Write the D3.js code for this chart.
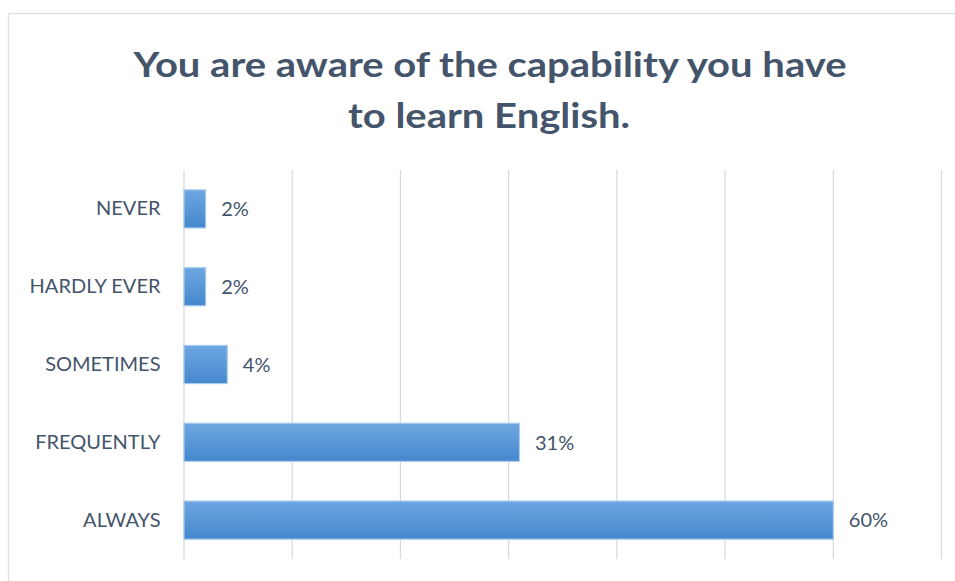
<!DOCTYPE html>
<html>
<head>
<meta charset="utf-8">
<script src="https://cdn.jsdelivr.net/npm/d3@7"></script>
<style>
  html, body { margin: 0; padding: 0; background: #fff; }
  svg { display: block; }
</style>
</head>
<body>
<div id="chart"></div>
<script>
// Survey answers, top to bottom
const categories = ["NEVER", "HARDLY EVER", "SOMETIMES", "FREQUENTLY", "ALWAYS"];
const shares = [0.02, 0.02, 0.04, 0.31, 0.60];
const gridTicks = [0, 0.1, 0.2, 0.3, 0.4, 0.5, 0.6, 0.7];
const titleLines = ["You are aware of the capability you have", "to learn English."];

const W = 955, H = 581;
const textColor = "#44546A";

const svg = d3.select("#chart").append("svg")
  .attr("width", W).attr("height", H);

// chart frame
svg.append("rect")
  .attr("x", 8.5).attr("y", 13.5)
  .attr("width", 960).attr("height", 640)
  .attr("fill", "#fff")
  .attr("stroke", "#dfe2e6").attr("stroke-width", 1.5);

// bar gradient
const defs = svg.append("defs");
const grad = defs.append("linearGradient")
  .attr("id", "barFill").attr("x1", 0).attr("y1", 0).attr("x2", 0).attr("y2", 1);
grad.append("stop").attr("offset", "0%").attr("stop-color", "#6ea7e1");
grad.append("stop").attr("offset", "100%").attr("stop-color", "#4587cd");

// title
const title = svg.append("text")
  .attr("text-anchor", "middle")
  .attr("font-family", "Lato, 'Open Sans', sans-serif")
  .attr("font-weight", 700)
  .attr("font-size", 35)
  .attr("fill", textColor);
title.append("tspan").attr("x", 490).attr("y", 77)
  .attr("textLength", 713).attr("lengthAdjust", "spacingAndGlyphs")
  .text(titleLines[0]);
title.append("tspan").attr("x", 489).attr("y", 128)
  .attr("textLength", 282).attr("lengthAdjust", "spacingAndGlyphs")
  .text(titleLines[1]);

// scales
const x = d3.scaleLinear().domain([0, 0.7]).range([183.5, 941]);
const y = d3.scaleBand().domain(categories).range([170, 559])
  .paddingInner(0.51).paddingOuter(0.255);

// vertical gridlines
svg.append("g")
  .attr("transform", "translate(0,559)")
  .call(d3.axisBottom(x).tickValues(gridTicks).tickSize(-389).tickFormat(""))
  .call(g => g.select(".domain").remove())
  .call(g => g.selectAll(".tick line").attr("stroke", "#d9d9d9").attr("stroke-width", 1.2));

// category labels
svg.append("g")
  .attr("transform", "translate(183.5,0)")
  .call(d3.axisLeft(y).tickSize(0).tickPadding(23))
  .call(g => g.select(".domain").remove())
  .call(g => g.selectAll("text")
    .attr("font-family", "Lato, 'Open Sans', sans-serif")
    .attr("font-size", 20)
    .attr("fill", textColor));

// bars
svg.append("g").selectAll("rect")
  .data(categories)
  .join("rect")
  .attr("x", x(0) + 0.5)
  .attr("y", d => y(d))
  .attr("width", (d, i) => x(shares[i]) - x(0))
  .attr("height", y.bandwidth())
  .attr("fill", "url(#barFill)")
  .attr("stroke", "#a9cbed")
  .attr("stroke-width", 1.2);

// value labels
const fmt = d3.format(".0%");
svg.append("g").selectAll("text")
  .data(categories)
  .join("text")
  .attr("x", (d, i) => x(shares[i]) + 16)
  .attr("y", d => y(d) + y.bandwidth() / 2)
  .attr("dy", "0.36em")
  .attr("font-family", "Lato, 'Open Sans', sans-serif")
  .attr("font-size", 20)
  .attr("fill", textColor)
  .text((d, i) => fmt(shares[i]));
</script>
</body>
</html>
